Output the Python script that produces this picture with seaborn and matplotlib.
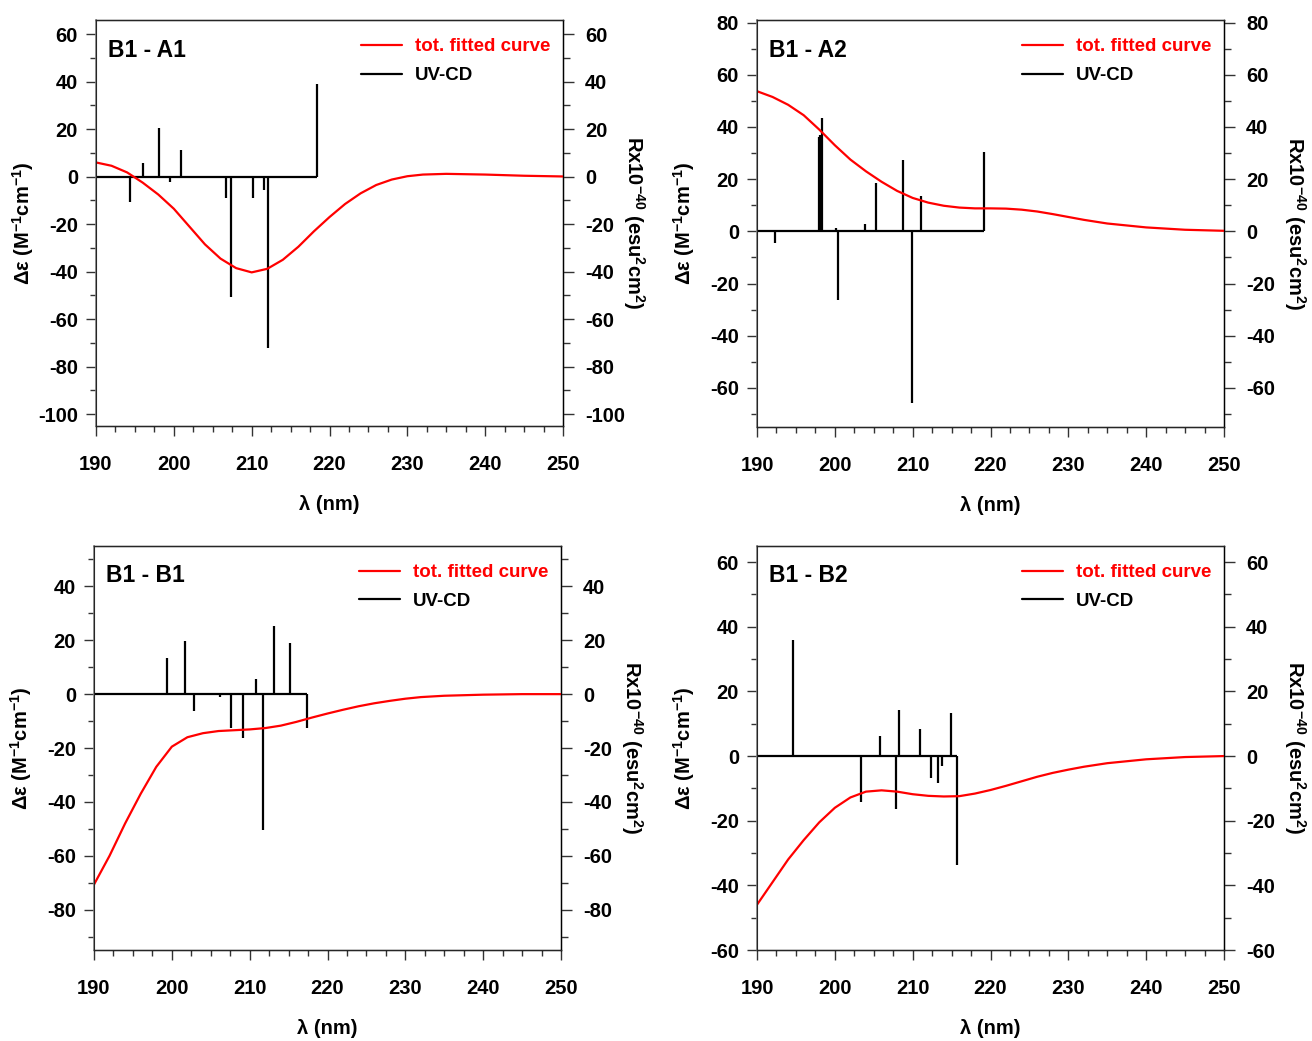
import matplotlib
matplotlib.use("Agg")
import matplotlib.pyplot as plt
from matplotlib.lines import Line2D
from matplotlib.ticker import MultipleLocator
import seaborn as sns

# stick spectra (wavelength nm, rotatory strength) and fitted curves
a1_stick_x = [194.4, 196.1, 198.1, 199.5, 200.9, 206.7, 207.4, 210.2, 211.6, 212.1, 218.4]
a1_stick_y = [-10.5, 5.6, 20.6, -2.1, 11.2, -9.1, -50.8, -9.0, -5.6, -72.0, 39.2]
a1_curve_x = [190, 192, 194, 196, 198, 200, 202, 204, 206, 208, 210, 212, 214, 216, 218,
              220, 222, 224, 226, 228, 230, 232, 235, 240, 245, 250]
a1_curve_y = [6.0, 4.6, 1.8, -2.5, -7.5, -13.5, -21.0, -28.5, -34.5, -38.5, -40.3, -38.8, -35.0,
              -29.5, -23.0, -17.0, -11.5, -7.0, -3.5, -1.2, 0.2, 0.9, 1.2, 0.9, 0.4, 0.1]

a2_stick_x = [192.3, 198.0, 198.1, 198.3, 200.1, 200.4, 203.9, 205.3, 208.7, 209.9, 211.1, 219.2]
a2_stick_y = [-4.5, 36.0, 37.1, 43.6, 1.3, -26.5, 3.0, 18.5, 27.5, -65.7, 13.4, 30.4]
a2_curve_x = [190, 192, 194, 196, 198, 200, 202, 204, 206, 208, 210, 212, 214, 216, 218,
              220, 222, 224, 226, 228, 230, 232, 235, 240, 245, 250]
a2_curve_y = [53.7, 51.5, 48.5, 44.5, 39.0, 33.0, 27.5, 23.0, 19.0, 15.5, 12.8, 11.0, 9.8, 9.1,
              8.8, 8.8, 8.7, 8.3, 7.6, 6.6, 5.5, 4.4, 3.0, 1.5, 0.6, 0.2]

b1_stick_x = [199.4, 201.65, 202.9, 206.2, 207.6, 209.1, 210.8, 211.75, 213.1, 215.2, 217.4]
b1_stick_y = [13.4, 19.6, -6.2, -1.2, -12.5, -16.4, 5.8, -50.4, 25.3, 18.8, -12.7]
b1_curve_x = [190, 192, 193, 194, 196, 198, 200, 202, 204, 206, 208, 210, 212, 214, 216, 218,
              220, 222, 224, 226, 228, 230, 232, 235, 240, 245, 250]
b1_curve_y = [-70.7, -60.0, -54.0, -48.0, -37.0, -27.0, -19.5, -16.0, -14.5, -13.7, -13.4, -13.1,
              -12.6, -11.7, -10.3, -8.7, -7.2, -5.8, -4.5, -3.4, -2.5, -1.7, -1.1, -0.6, -0.2,
              0.0, 0.0]

b2_stick_x = [194.66, 203.3, 205.8, 207.9, 208.2, 211.0, 212.3, 213.2, 213.8, 214.9, 215.7]
b2_stick_y = [36.0, -14.3, 6.1, -16.5, 14.4, 8.4, -6.8, -8.4, -3.2, 13.4, -33.8]
b2_curve_x = [190, 192, 194, 196, 198, 200, 202, 204, 206, 208, 210, 212, 214, 216, 218,
              220, 222, 224, 226, 228, 230, 232, 235, 240, 245, 250]
b2_curve_y = [-46.0, -39.0, -32.0, -26.0, -20.5, -16.0, -12.8, -11.0, -10.6, -11.0, -11.8, -12.3,
              -12.5, -12.4, -11.6, -10.5, -9.2, -7.8, -6.4, -5.2, -4.2, -3.3, -2.2, -1.0, -0.3, 0.0]

titles = ["B1 - A1", "B1 - A2", "B1 - B1", "B1 - B2"]
ylims = [(-105, 66), (-75, 81), (-95, 55), (-60, 65)]
ytick_ranges = [(-100, 60), (-60, 80), (-80, 40), (-60, 60)]

sns.set_style("ticks")
plt.rcParams['font.family'] = ['Liberation Sans', 'DejaVu Sans']
plt.rcParams['font.weight'] = 'bold'
plt.rcParams['text.color'] = 'black'
plt.rcParams['axes.labelcolor'] = 'black'
plt.rcParams['xtick.color'] = 'black'
plt.rcParams['ytick.color'] = 'black'
plt.rcParams['axes.unicode_minus'] = False
plt.rcParams['mathtext.fontset'] = 'custom'
plt.rcParams['mathtext.rm'] = 'Liberation Sans:bold'
plt.rcParams['mathtext.default'] = 'rm'

fig = plt.figure(figsize=(13.12, 10.41), dpi=100)
positions = [
    [96 / 1312, 1 - 426 / 1041, 467 / 1312, 406 / 1041],
    [757 / 1312, 1 - 427 / 1041, 467 / 1312, 407 / 1041],
    [94 / 1312, 1 - 950 / 1041, 467 / 1312, 404 / 1041],
    [757 / 1312, 1 - 950 / 1041, 467 / 1312, 404 / 1041],
]
panels = [
    (a1_stick_x, a1_stick_y, a1_curve_x, a1_curve_y),
    (a2_stick_x, a2_stick_y, a2_curve_x, a2_curve_y),
    (b1_stick_x, b1_stick_y, b1_curve_x, b1_curve_y),
    (b2_stick_x, b2_stick_y, b2_curve_x, b2_curve_y),
]

for i, (sx, sy, cx, cy) in enumerate(panels):
    ax = fig.add_axes(positions[i])
    # sticks + baseline
    ax.vlines(sx, 0, sy, colors='black', lw=1.6, zorder=3)
    ax.hlines(0, 190, max(sx), colors='black', lw=1.6, zorder=3)
    sns.lineplot(x=cx, y=cy, ax=ax, color='red', lw=1.6, zorder=4)

    ax.set_xlim(190, 250)
    ax.set_ylim(*ylims[i])
    lo, hi = ytick_ranges[i]
    ax.set_yticks(list(range(lo, hi + 1, 20)))
    ax.set_xticks(list(range(190, 251, 10)))
    ax.xaxis.set_minor_locator(MultipleLocator(2.5))
    ax.yaxis.set_minor_locator(MultipleLocator(10))
    ax.tick_params(axis='both', which='major', labelsize=14.5, length=7, width=1,
                   color='#333333', labelcolor='black')
    ax.tick_params(axis='y', which='major', pad=6)
    ax.tick_params(axis='x', which='major', pad=14)
    ax.tick_params(axis='both', which='minor', length=4, width=1, color='#333333')
    for lab in ax.get_xticklabels() + ax.get_yticklabels():
        lab.set_fontweight('bold')
    for side in ['top', 'right', 'bottom']:
        ax.spines[side].set_color('black')
        ax.spines[side].set_linewidth(1)
    ax.spines['left'].set_color('#808080')
    ax.spines['left'].set_linewidth(1.2)

    ax.set_xlabel("λ (nm)", fontsize=14.5, fontweight='bold')
    ax.xaxis.set_label_coords(0.5, -0.17)
    ax.set_ylabel("Δε (M$^{-1}$cm$^{-1}$)", fontsize=14.5, fontweight='bold')
    ax.yaxis.set_label_coords(-0.128, 0.5)

    ax2 = ax.twinx()
    ax2.set_ylim(*ylims[i])
    ax2.set_yticks(list(range(lo, hi + 1, 20)))
    ax2.yaxis.set_minor_locator(MultipleLocator(10))
    ax2.tick_params(axis='y', which='major', labelsize=14.5, length=8, width=1, pad=8,
                    color='#333333', labelcolor='black')
    ax2.tick_params(axis='y', which='minor', length=5, width=1, color='#333333')
    for lab in ax2.get_yticklabels():
        lab.set_fontweight('bold')
    ax2.spines['right'].set_color('black')
    ax2.set_ylabel("Rx10$^{-40}$ (esu$^{2}$cm$^{2}$)", fontsize=14.5, fontweight='bold', rotation=270)
    ax2.yaxis.set_label_coords(1.18, 0.5)

    ax.text(0.026, 0.926, titles[i], transform=ax.transAxes, fontsize=16.5,
            fontweight='bold', va='center', ha='left', color='black')

    handles = [Line2D([], [], color='red', lw=1.6), Line2D([], [], color='black', lw=1.6)]
    leg = ax.legend(handles, ["tot. fitted curve", "UV-CD"], loc='upper right',
                    bbox_to_anchor=(0.972, 0.955), frameon=False, fontsize=13.5,
                    handlelength=2.2, handletextpad=0.65, labelspacing=0.62,
                    borderaxespad=0, borderpad=0)
    leg.get_texts()[0].set_color('red')
    leg.get_texts()[1].set_color('black')
    for t in leg.get_texts():
        t.set_fontweight('bold')

fig.savefig("out.png", dpi=100)
